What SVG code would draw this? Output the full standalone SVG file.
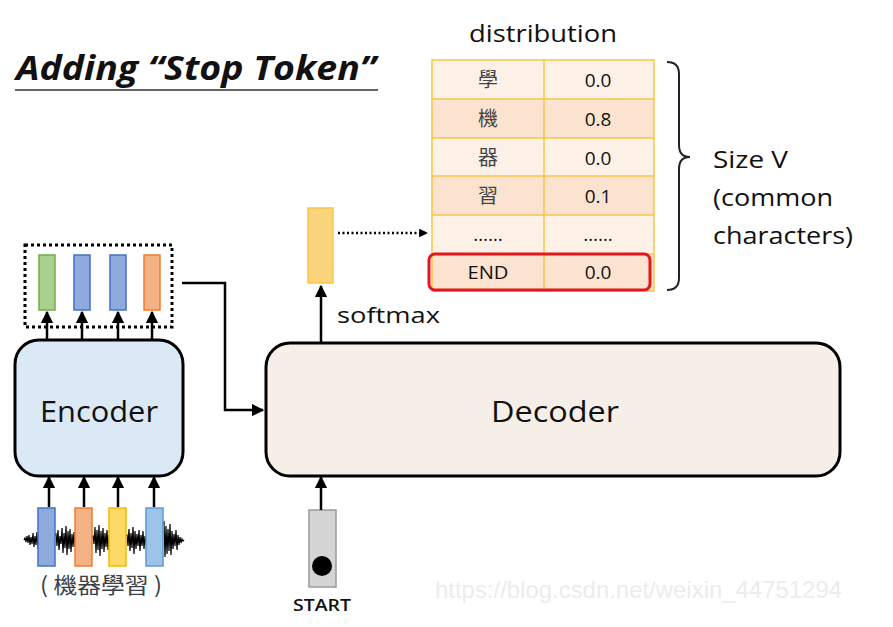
<svg xmlns="http://www.w3.org/2000/svg" width="893" height="627" viewBox="0 0 893 627">
<style>
text{font-family:"Open Sans","Noto Sans","Noto Sans CJK TC",sans-serif;fill:#111}
.cell{font-size:19px;text-anchor:middle}
.cjk{font-family:"Noto Sans CJK TC","Noto Sans CJK SC",sans-serif;fill:#444;font-size:20px;text-anchor:middle}
.conn{stroke:#000;stroke-width:2.5;fill:none}
.vec{stroke-width:1.5}
</style>
<defs>
<marker id="ah" viewBox="0 0 10 10" refX="9" refY="5" markerWidth="5" markerHeight="5" orient="auto-start-reverse"><path d="M0,0L10,5L0,10z" fill="#000"/></marker>
<marker id="ahs" viewBox="0 0 10 10" refX="9" refY="5" markerWidth="3.5" markerHeight="3.5" orient="auto"><path d="M0,0L10,5L0,10z" fill="#000"/></marker>
</defs>
<rect width="893" height="627" fill="#fff"/>

<g id="title">
<text x="16" y="80" font-size="34" font-weight="bold" font-style="italic" textLength="360" lengthAdjust="spacingAndGlyphs">Adding “Stop Token”</text>
<line x1="15" y1="90" x2="378" y2="90" stroke="#333" stroke-width="1.5"/>
</g>

<g id="distribution">
<text x="543" y="42" font-size="24" text-anchor="middle" textLength="148" lengthAdjust="spacingAndGlyphs">distribution</text>
<rect x="432" y="60" width="222" height="39" fill="#fdf1e7"/>
<rect x="432" y="99" width="222" height="39" fill="#fbe3cf"/>
<rect x="432" y="138" width="222" height="38" fill="#fdf1e7"/>
<rect x="432" y="176" width="222" height="39" fill="#fbe3cf"/>
<rect x="432" y="215" width="222" height="39" fill="#fdf1e7"/>
<rect x="432" y="254" width="222" height="37" fill="#fbe3cf"/>
<g stroke="#f6c64a" stroke-width="1.5" fill="none">
<rect x="432" y="60" width="222" height="231"/>
<line x1="544" y1="60" x2="544" y2="291"/>
<line x1="432" y1="99" x2="654" y2="99"/>
<line x1="432" y1="138" x2="654" y2="138"/>
<line x1="432" y1="176" x2="654" y2="176"/>
<line x1="432" y1="215" x2="654" y2="215"/>
<line x1="432" y1="254" x2="654" y2="254"/>
</g>
<text class="cjk" x="488" y="87">學</text>
<text class="cjk" x="488" y="126">機</text>
<text class="cjk" x="488" y="165">器</text>
<text class="cjk" x="488" y="203">習</text>
<text class="cell" x="488" y="241" font-size="13">……</text>
<text class="cell" x="488" y="279" font-size="17" textLength="41" lengthAdjust="spacingAndGlyphs">END</text>
<text class="cell" x="598" y="87">0.0</text>
<text class="cell" x="598" y="126">0.8</text>
<text class="cell" x="598" y="165">0.0</text>
<text class="cell" x="598" y="203">0.1</text>
<text class="cell" x="598" y="241" font-size="13">……</text>
<text class="cell" x="598" y="279">0.0</text>
<rect x="429" y="254" width="221" height="36" rx="6" fill="none" stroke="#e3161b" stroke-width="3"/>
</g>

<g id="brace">
<path d="M667,62 Q679,62 679,74 L679,145 Q679,157 690,157 Q679,157 679,169 L679,278 Q679,290 667,290" fill="none" stroke="#222" stroke-width="2"/>
<text x="713" y="168" font-size="24" textLength="75" lengthAdjust="spacingAndGlyphs">Size V</text>
<text x="713" y="206" font-size="24" textLength="120" lengthAdjust="spacingAndGlyphs">(common</text>
<text x="713" y="244" font-size="24" textLength="140" lengthAdjust="spacingAndGlyphs">characters)</text>
</g>

<g id="softmax-out">
<rect x="308" y="208" width="25" height="75" fill="#fbd57e" stroke="#f7c547" stroke-width="1.5"/>
</g>

<g id="decoder">
<rect x="266" y="343" width="574" height="133" rx="24" fill="#f6efe8" stroke="#000" stroke-width="3"/>
<text x="555" y="422" font-size="30" text-anchor="middle" textLength="128" lengthAdjust="spacingAndGlyphs">Decoder</text>
</g>

<g id="encoder">
<rect x="15" y="340" width="168" height="136" rx="24" fill="#dbe8f6" stroke="#000" stroke-width="3"/>
<text x="99" y="422" font-size="30" text-anchor="middle" textLength="118" lengthAdjust="spacingAndGlyphs">Encoder</text>
</g>

<g id="encoder-outputs">
<rect x="25" y="245" width="147" height="82" fill="none" stroke="#000" stroke-width="3" stroke-dasharray="3,3"/>
<rect class="vec" x="39" y="255" width="16" height="55" fill="#a9d18e" stroke="#70ad47"/>
<rect class="vec" x="74" y="255" width="16" height="55" fill="#8faadc" stroke="#4472c4"/>
<rect class="vec" x="110" y="255" width="16" height="55" fill="#8faadc" stroke="#4472c4"/>
<rect class="vec" x="144" y="255" width="16" height="55" fill="#f4b183" stroke="#ed7d31"/>
</g>

<g id="inputs">
<path d="M24,540 L25,538 L26,542 L27,536 L28,543 L29,535 L30,545 L31,537 L32,544 L33,533 L34,547 L35,536 L36,545 L37,532 L38,548 L56,534 L57,546 L58,530 L59,550 L60,536 L61,544 L62,528 L63,553 L64,533 L65,548 L66,526 L67,555 L68,531 L69,549 L70,529 L71,552 L72,534 L73,547 L74,532 L75,546 L93,536 L94,544 L95,527 L96,553 L97,530 L98,550 L99,525 L100,556 L101,531 L102,549 L103,528 L104,552 L105,533 L106,547 L107,530 L108,550 L109,536 L127,535 L128,546 L129,529 L130,551 L131,533 L132,548 L133,527 L134,554 L135,531 L136,549 L137,534 L138,546 L139,530 L140,551 L141,535 L142,546 L143,531 L144,549 L145,536 L146,544 L164,522 L165,557 L166,526 L167,554 L168,529 L169,551 L170,524 L171,555 L172,531 L173,549 L174,534 L175,546 L176,530 L177,550 L178,535 L179,545 L180,537 L181,543 L182,539 L183,541 L184,540" fill="none" stroke="#000" stroke-width="1.2"/>
<rect class="vec" x="38" y="508" width="17" height="58" fill="#8faadc" stroke="#4472c4"/>
<rect class="vec" x="75" y="508" width="17" height="58" fill="#f4b183" stroke="#ed7d31"/>
<rect class="vec" x="109" y="508" width="17" height="58" fill="#ffd966" stroke="#f5b800"/>
<rect class="vec" x="146" y="508" width="17" height="58" fill="#9dc3e6" stroke="#5b9bd5"/>
<text x="101" y="593" font-size="22" text-anchor="middle" textLength="122" lengthAdjust="spacingAndGlyphs" style="font-family:'Noto Sans CJK TC','Noto Sans CJK SC',sans-serif;fill:#3a3f4a">( 機器學習 )</text>
</g>

<g id="start">
<rect x="309" y="510" width="27" height="77" fill="#d4d4d4" stroke="#9a9a9a" stroke-width="1.5"/>
<circle cx="322" cy="566" r="10" fill="#000"/>
<text x="322" y="611" font-size="17" font-weight="600" text-anchor="middle" textLength="58" lengthAdjust="spacingAndGlyphs">START</text>
</g>

<g id="connectors">
<line class="conn" x1="47" y1="340" x2="47" y2="312" marker-end="url(#ah)"/>
<line class="conn" x1="82" y1="340" x2="82" y2="312" marker-end="url(#ah)"/>
<line class="conn" x1="118" y1="340" x2="118" y2="312" marker-end="url(#ah)"/>
<line class="conn" x1="152" y1="340" x2="152" y2="312" marker-end="url(#ah)"/>
<line class="conn" x1="49" y1="507" x2="49" y2="477" marker-end="url(#ah)"/>
<line class="conn" x1="84" y1="507" x2="84" y2="477" marker-end="url(#ah)"/>
<line class="conn" x1="118" y1="507" x2="118" y2="477" marker-end="url(#ah)"/>
<line class="conn" x1="154" y1="507" x2="154" y2="477" marker-end="url(#ah)"/>
<line class="conn" x1="321" y1="510" x2="321" y2="477" marker-end="url(#ah)"/>
<line class="conn" x1="321" y1="342" x2="321" y2="286" marker-end="url(#ah)"/>
<polyline class="conn" points="182,283 225,283 225,410 263,410" marker-end="url(#ah)"/>
<line x1="338" y1="233" x2="427" y2="233" stroke="#000" stroke-width="2.5" stroke-dasharray="2,2.5" marker-end="url(#ahs)"/>
<text x="337" y="323" font-size="22" textLength="103" lengthAdjust="spacingAndGlyphs">softmax</text>
</g>

<text x="435" y="598" font-size="24" textLength="407" lengthAdjust="spacingAndGlyphs" style="font-family:'Liberation Sans',Arial,sans-serif;fill:#ececec">https://blog.csdn.net/weixin_44751294</text>
</svg>
